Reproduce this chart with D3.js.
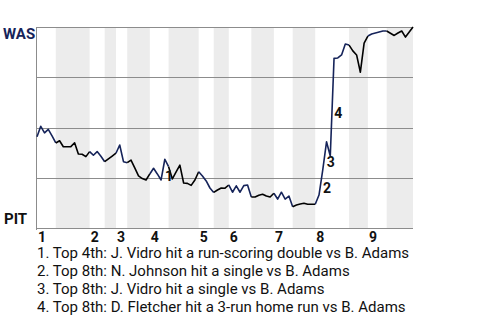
<!DOCTYPE html>
<html>
<head>
<meta charset="utf-8">
<script src="https://cdnjs.cloudflare.com/ajax/libs/d3/7.8.5/d3.min.js"></script>
<style>
  body { margin: 0; background: #fff; }
  text { font-family: Roboto, "Liberation Sans", sans-serif; }
</style>
</head>
<body>
<div id="graph"></div>
<script>
// win probability for WAS after each plate appearance
var wp = [
  0.454, 0.506, 0.473, 0.491, 0.458, 0.423, 0.434, 0.404, 0.404, 0.405,
  0.424, 0.368, 0.367, 0.355, 0.380, 0.362, 0.380, 0.357, 0.330, 0.344,
  0.358, 0.372, 0.413, 0.330, 0.325, 0.338, 0.299, 0.259, 0.246, 0.239,
  0.269, 0.297, 0.269, 0.239, 0.342, 0.305, 0.244, 0.279, 0.313, 0.224,
  0.222, 0.212, 0.239, 0.280, 0.259, 0.234, 0.199, 0.177, 0.189, 0.199,
  0.198, 0.214, 0.178, 0.210, 0.178, 0.211, 0.214, 0.154, 0.154, 0.163,
  0.168, 0.159, 0.154, 0.173, 0.144, 0.178, 0.144, 0.159, 0.106, 0.114,
  0.119, 0.123, 0.118, 0.118, 0.118, 0.164, 0.289, 0.429, 0.358, 0.844,
  0.846, 0.861, 0.915, 0.910, 0.881, 0.861, 0.775, 0.920, 0.955, 0.965,
  0.970, 0.975, 0.980, 0.980, 0.969, 0.958, 0.970, 0.980, 0.950, 0.975,
  1.000
];
// index where each half inning starts (top 1, bottom 1, top 2 ...)
var halfStarts = [0, 5, 14, 18, 21, 24, 30, 35, 43, 47, 51, 57, 63, 68, 74, 83, 88, 93];
var innings = ["1", "2", "3", "4", "5", "6", "7", "8", "9"];
var eventIdx = [34, 76, 77, 79];
var eventNotes = [
  "1. Top 4th: J. Vidro hit a run-scoring double vs B. Adams",
  "2. Top 8th: N. Johnson hit a single vs B. Adams",
  "3. Top 8th: J. Vidro hit a single vs B. Adams",
  "4. Top 8th: D. Fletcher hit a 3-run home run vs B. Adams"
];
var gridVals = [0, 0.25, 0.5, 0.75, 1];
var teams = ["WAS", "PIT"];

var navy = "#16245a";
var width = 480, height = 320;
var plotLeft = 37, plotRight = 413, plotTop = 27, plotBottom = 228;

var svg = d3.select("#graph").append("svg")
    .attr("width", width)
    .attr("height", height);

var n = wp.length - 1;
var xScale = d3.scaleLinear().domain([0, n]).range([plotLeft, plotRight]);
var yScale = d3.scaleLinear().domain([0, 1]).range([plotBottom, plotTop]);

// grey bands for bottom halves
var halves = halfStarts.map(function(s, i) {
  return {start: s, end: i < halfStarts.length - 1 ? halfStarts[i + 1] : n, top: i % 2 == 0};
});
svg.append("g").selectAll("rect")
  .data(halves.filter(function(h) { return !h.top; }))
  .join("rect")
  .attr("x", function(d) { return xScale(d.start); })
  .attr("width", function(d) { return xScale(d.end) - xScale(d.start); })
  .attr("y", plotTop)
  .attr("height", plotBottom - plotTop + 1)
  .attr("fill", "#ececec");

svg.append("g").selectAll("line")
  .data(gridVals)
  .join("line")
  .attr("x1", plotLeft)
  .attr("x2", plotRight)
  .attr("y1", function(d) { return Math.round(yScale(d)) + 0.5; })
  .attr("y2", function(d) { return Math.round(yScale(d)) + 0.5; })
  .attr("stroke", "#8c8c8c")
  .attr("stroke-width", 1);

svg.append("line")
  .attr("x1", plotLeft - 0.5).attr("x2", plotLeft - 0.5)
  .attr("y1", plotTop).attr("y2", plotBottom + 2)
  .attr("stroke", "#8c8c8c");

// the line, one path per half inning
var line = d3.line()
  .x(function(d) { return xScale(d); })
  .y(function(d) { return yScale(wp[d]); });
svg.append("g").selectAll("path")
  .data(halves)
  .join("path")
  .attr("d", function(h) { return line(d3.range(h.start, h.end + 1)); })
  .attr("fill", "none")
  .attr("stroke", function(h) { return h.top ? navy : "#000"; })
  .attr("stroke-width", 1.6)
  .attr("stroke-linejoin", "round");

// event markers
svg.append("g").selectAll("text")
  .data(eventIdx)
  .join("text")
  .attr("x", function(d) { return (xScale(d - 1) + xScale(d)) / 2 + 2; })
  .attr("y", function(d) { return (yScale(wp[d - 1]) + yScale(wp[d])) / 2 + 11; })
  .attr("font-size", 14)
  .attr("font-weight", "bold")
  .attr("fill", "#111")
  .text(function(d, i) { return i + 1; });

svg.append("text")
  .attr("x", 3).attr("y", 39)
  .attr("font-size", 15).attr("font-weight", "bold")
  .attr("fill", navy)
  .text(teams[0]);
svg.append("text")
  .attr("x", 4).attr("y", 224)
  .attr("font-size", 15).attr("font-weight", "bold")
  .attr("fill", "#111")
  .text(teams[1]);

svg.append("g").selectAll("text")
  .data(innings)
  .join("text")
  .attr("x", function(d, i) { return xScale(halfStarts[i * 2]) + 1; })
  .attr("y", 241.5)
  .attr("font-size", 14)
  .attr("font-weight", "bold")
  .attr("fill", "#111")
  .text(function(d) { return d; });

svg.append("g").selectAll("text")
  .data(eventNotes)
  .join("text")
  .attr("x", plotLeft)
  .attr("y", function(d, i) { return 258.3 + i * 17.8; })
  .attr("font-size", 15)
  .attr("fill", "#111")
  .text(function(d) { return d; });
</script>
</body>
</html>
